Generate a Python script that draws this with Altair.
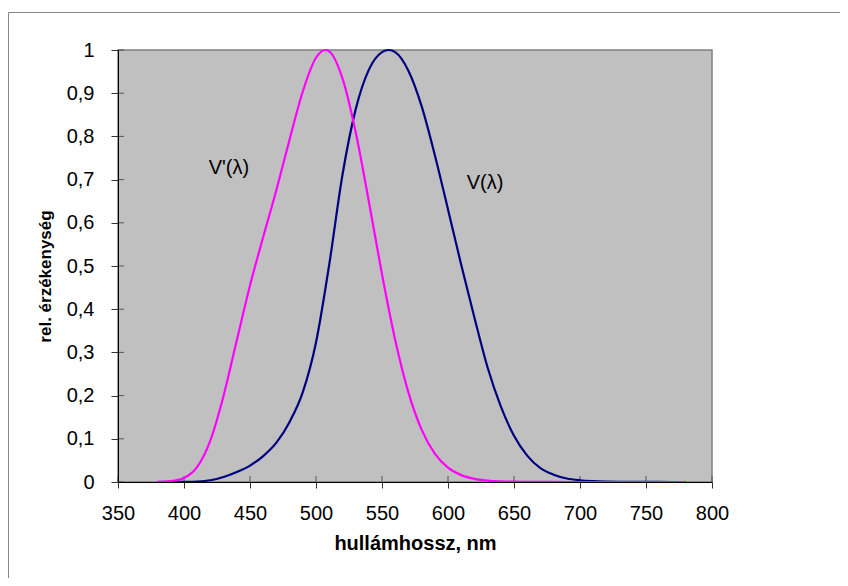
import altair as alt
import pandas as pd

# Photopic V(lambda)
wl_v = [380, 390, 400, 410, 420, 430, 440, 450, 460, 470, 480, 490, 500, 510, 520,
        530, 540, 550, 555, 560, 570, 580, 590, 600, 610, 620, 630, 640, 650, 660,
        670, 680, 690, 700, 710, 720, 730, 740, 750, 760, 770, 780]
v_vals = [0.00004, 0.00012, 0.0004, 0.0012, 0.004, 0.0116, 0.023, 0.038, 0.06, 0.091,
          0.139, 0.208, 0.323, 0.503, 0.71, 0.862, 0.954, 0.995, 1.0, 0.995, 0.952,
          0.87, 0.757, 0.631, 0.503, 0.381, 0.265, 0.175, 0.107, 0.061, 0.032, 0.017,
          0.0082, 0.0041, 0.0021, 0.00105, 0.00052, 0.00025, 0.00012, 0.00006, 0.00003,
          0.000015]

# Scotopic V'(lambda)
wl_vs = [380, 390, 400, 410, 420, 430, 440, 450, 460, 470, 480, 490, 500, 507, 510,
         520, 530, 540, 550, 560, 570, 580, 590, 600, 610, 620, 630, 640, 650, 660,
         670, 680, 690, 700, 710, 720, 730, 740, 750, 760, 770, 780]
vs_vals = [0.000589, 0.002209, 0.00929, 0.03484, 0.0966, 0.1998, 0.3281, 0.455, 0.567,
           0.676, 0.793, 0.904, 0.982, 1.0, 0.997, 0.935, 0.811, 0.65, 0.481, 0.3288,
           0.2076, 0.1212, 0.0655, 0.03315, 0.01593, 0.00737, 0.003335, 0.001497,
           0.000677, 0.000313, 0.000148, 0.0000715, 0.0000353, 0.0000178, 0.000009,
           0.0000048, 0.0000025, 0.0000014, 0.0000008, 0.0000004, 0.0000002, 0.0000001]

label_text = ["V'(λ)", "V(λ)"]
label_x = [434, 628]
label_y = [0.727, 0.692]

x_ticks = list(range(350, 801, 50))
y_ticks = [round(i * 0.1, 1) for i in range(11)]

df = pd.concat([
    pd.DataFrame({"wl": wl_v, "val": v_vals, "series": "V"}),
    pd.DataFrame({"wl": wl_vs, "val": vs_vals, "series": "Vs"}),
])
labels = pd.DataFrame({"t": label_text, "x": label_x, "y": label_y})
xt = pd.DataFrame({"x": x_ticks})
yt = pd.DataFrame({"y": y_ticks})

FONT = "Liberation Sans"
W, H = 594, 432

xscale = alt.Scale(domain=[350, 800], nice=False)
yscale = alt.Scale(domain=[0, 1], nice=False)

lines = alt.Chart(df).mark_line(strokeWidth=2.2, interpolate="monotone").encode(
    x=alt.X("wl:Q", scale=xscale,
            axis=alt.Axis(title="hullámhossz, nm", values=x_ticks, grid=False,
                          tickSize=6, labelPadding=15, titlePadding=10,
                          domainColor="black", tickColor="#333333",
                          labelFontSize=20, titleFontSize=20, titleFontWeight="bold",
                          labelFont=FONT, titleFont=FONT, labelColor="black",
                          titleColor="black", labelFlush=False, zindex=1)),
    y=alt.Y("val:Q", scale=yscale,
            axis=alt.Axis(title="rel. érzékenység", values=y_ticks, grid=False,
                          tickSize=7, labelPadding=17, titlePadding=12, titleY=226,
                          labelExpr="replace(format(datum.value, '.1~f'), '.', ',')",
                          domainColor="black", tickColor="#333333",
                          labelFontSize=20, titleFontSize=17, titleFontWeight="bold",
                          labelFont=FONT, titleFont=FONT, labelColor="black",
                          titleColor="black", zindex=1)),
    color=alt.Color("series:N", scale=alt.Scale(domain=["V", "Vs"],
                                                range=["#000080", "#FF00FF"]),
                    legend=None),
)

# inner parts of the crossing tick marks
xin = alt.Chart(xt).mark_rule(color="#555555", strokeWidth=1).encode(
    x=alt.X("x:Q", scale=xscale), y=alt.value(H - 6), y2=alt.value(H))
yin = alt.Chart(yt).mark_rule(color="#555555", strokeWidth=1).encode(
    y=alt.Y("y:Q", scale=yscale), x=alt.value(0), x2=alt.value(6))

texts = alt.Chart(labels).mark_text(font=FONT, fontSize=20, color="black").encode(
    x=alt.X("x:Q", scale=xscale),
    y=alt.Y("y:Q", scale=yscale),
    text="t:N",
)

border = alt.Chart(pd.DataFrame({"a": [0]})).mark_rect(
    filled=False, stroke="#888888", strokeWidth=1).encode(
    x=alt.value(-109.5), x2=alt.value(900), y=alt.value(-37.5), y2=alt.value(700))

chart = alt.layer(border, xin, yin, lines, texts).properties(
    width=W, height=H,
    autosize=alt.AutoSizeParams(type="none"),
    padding={"left": 110, "top": 42, "right": 128, "bottom": 96},
    background="white",
).configure_view(fill="#C0C0C0", stroke="#808080", strokeWidth=1.5)

chart.save("out.html", embed_options={"renderer": "svg", "actions": False})
